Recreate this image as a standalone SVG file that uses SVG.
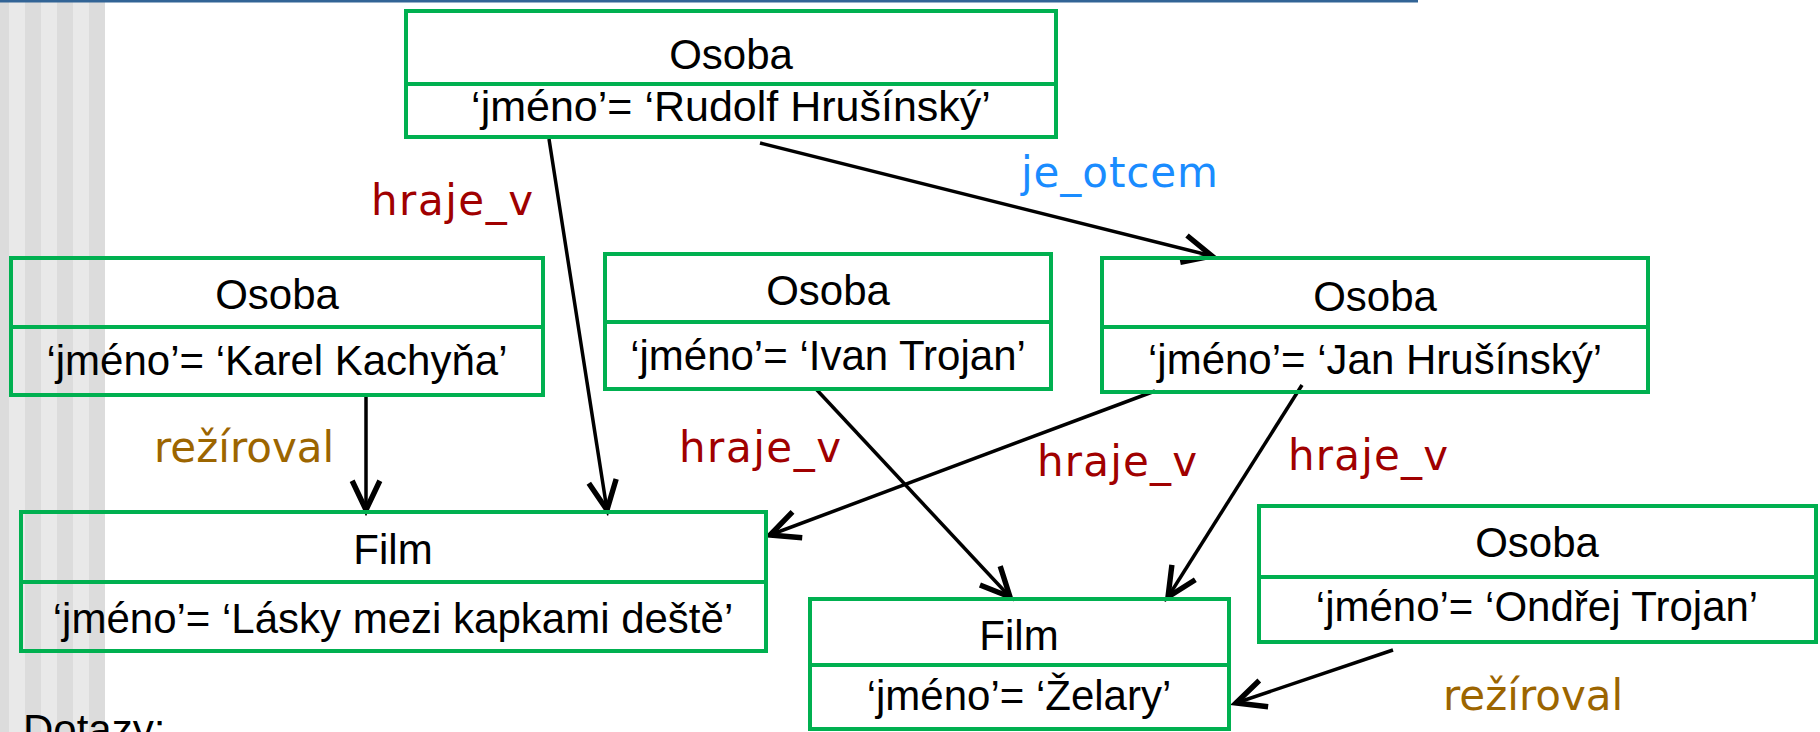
<svg xmlns="http://www.w3.org/2000/svg" width="1820" height="732" viewBox="0 0 1820 732">
<defs>
<style>
.box{fill:none;stroke:#00B050;stroke-width:4}
.t{font-family:"Liberation Sans",Arial,sans-serif;font-size:42px;fill:#000;text-anchor:middle}
.lbl{font-family:"DejaVu Sans",Verdana,sans-serif;font-size:42px}
.red{fill:#a00000}
.blue{fill:#1a8cff}
.brown{fill:#9c6500}
.c{stroke:#000;stroke-width:3.5;fill:none;marker-end:url(#arr)}
</style>
<marker id="arr" markerUnits="userSpaceOnUse" markerWidth="40" markerHeight="40" viewBox="-22 -12 26 24" refX="0" refY="0" orient="auto">
<path d="M-19,-9 L0,0 L-19,9" fill="none" stroke="#000" stroke-width="3.5"/>
</marker>
</defs>
<rect x="0" y="0" width="1820" height="732" fill="#fff"/>
<g id="stripes">
<rect x="0" y="0" width="9" height="732" fill="#dcdcdc"/>
<rect x="9" y="0" width="16" height="732" fill="#e9e9e9"/>
<rect x="25" y="0" width="16" height="732" fill="#dcdcdc"/>
<rect x="41" y="0" width="16" height="732" fill="#e9e9e9"/>
<rect x="57" y="0" width="16" height="732" fill="#dcdcdc"/>
<rect x="73" y="0" width="16" height="732" fill="#e9e9e9"/>
<rect x="89" y="0" width="16" height="732" fill="#dcdcdc"/>
</g>
<rect x="0" y="0" width="1418" height="2.5" fill="#326496"/>

<g id="connectors">
<line class="c" x1="549" y1="139" x2="607" y2="510"/>
<line class="c" x1="760" y1="143" x2="1212" y2="256"/>
<line class="c" x1="366" y1="395" x2="366" y2="510"/>
<line class="c" x1="816" y1="389" x2="1010" y2="597"/>
<line class="c" x1="1155" y1="391" x2="770" y2="535"/>
<line class="c" x1="1302" y1="385" x2="1168" y2="597"/>
<line class="c" x1="1393" y1="650" x2="1236" y2="703"/>
</g>

<g id="labels">
<text class="lbl red" x="371" y="215" textLength="162" lengthAdjust="spacing">hraje_v</text>
<text class="lbl blue" x="1021" y="187" textLength="197" lengthAdjust="spacing">je_otcem</text>
<text class="lbl brown" x="154" y="462">režíroval</text>
<text class="lbl red" x="679" y="462" textLength="162" lengthAdjust="spacing">hraje_v</text>
<text class="lbl red" x="1037" y="476" textLength="160" lengthAdjust="spacing">hraje_v</text>
<text class="lbl red" x="1288" y="470" textLength="160" lengthAdjust="spacing">hraje_v</text>
<text class="lbl brown" x="1443" y="710">režíroval</text>
</g>

<g id="rudolf">
<rect class="box" x="406" y="11" width="650" height="126"/>
<line class="box" x1="406" y1="84" x2="1056" y2="84"/>
<text class="t" x="731" y="69">Osoba</text>
<text class="t" x="731" y="121" style="font-size:43px">‘jméno’= ‘Rudolf Hrušínský’</text>
</g>
<g id="karel">
<rect class="box" x="11" y="258" width="532" height="137"/>
<line class="box" x1="11" y1="327" x2="543" y2="327"/>
<text class="t" x="277" y="309">Osoba</text>
<text class="t" x="277" y="375">‘jméno’= ‘Karel Kachyňa’</text>
</g>
<g id="ivan">
<rect class="box" x="605" y="254" width="446" height="135"/>
<line class="box" x1="605" y1="322" x2="1051" y2="322"/>
<text class="t" x="828" y="305">Osoba</text>
<text class="t" x="828" y="370">‘jméno’= ‘Ivan Trojan’</text>
</g>
<g id="jan">
<rect class="box" x="1102" y="258" width="546" height="134"/>
<line class="box" x1="1102" y1="327" x2="1648" y2="327"/>
<text class="t" x="1375" y="311">Osoba</text>
<text class="t" x="1375" y="374">‘jméno’= ‘Jan Hrušínský’</text>
</g>
<g id="lasky">
<rect class="box" x="21" y="512" width="745" height="139"/>
<line class="box" x1="21" y1="582" x2="766" y2="582"/>
<text class="t" x="393" y="564">Film</text>
<text class="t" x="393" y="633">‘jméno’= ‘Lásky mezi kapkami deště’</text>
</g>
<g id="zelary">
<rect class="box" x="810" y="599" width="419" height="130"/>
<line class="box" x1="810" y1="665" x2="1229" y2="665"/>
<text class="t" x="1019" y="650">Film</text>
<text class="t" x="1019" y="710">‘jméno’= ‘Želary’</text>
</g>
<g id="ondrej">
<rect class="box" x="1259" y="506" width="557" height="136"/>
<line class="box" x1="1259" y1="577" x2="1816" y2="577"/>
<text class="t" x="1537" y="557">Osoba</text>
<text class="t" x="1537" y="621">‘jméno’= ‘Ondřej Trojan’</text>
</g>
<text x="23" y="744" style="font-family:'Liberation Sans',Arial,sans-serif;font-size:42px;fill:#000">Dotazy:</text>
</svg>
